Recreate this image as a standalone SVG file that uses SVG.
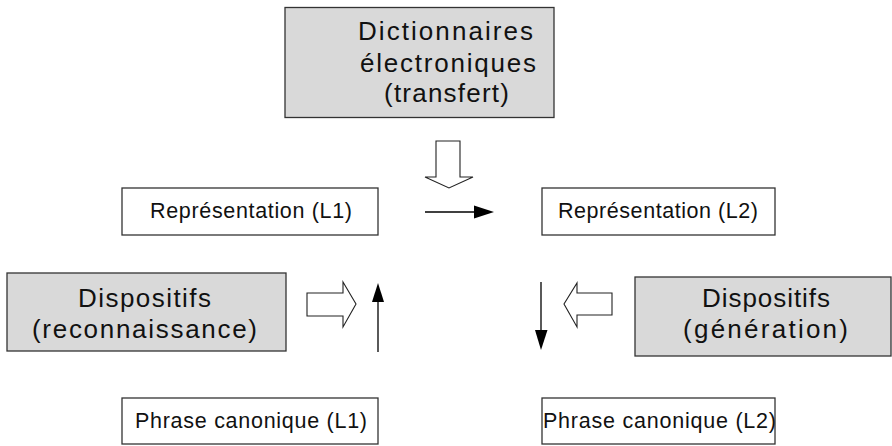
<svg xmlns="http://www.w3.org/2000/svg" width="892" height="446" viewBox="0 0 892 446">
<style>
.box{fill:#ffffff;stroke:#333333;stroke-width:1.3}
.gbox{fill:#d9d9d9;stroke:#333333;stroke-width:1.3}
.t{font-family:"Liberation Sans",Arial,sans-serif;fill:#111111}
.s{font-size:21.5px}
.l{font-size:26px}
.hollow{fill:#ffffff;stroke:#222222;stroke-width:1.1;stroke-linejoin:miter}
.line{stroke:#000000;stroke-width:1.3;fill:none}
.head{fill:#000000}
</style>
<rect width="892" height="446" fill="#ffffff"/>
<g id="dictionnaires">
<rect class="gbox" x="285" y="7.5" width="269" height="110"/>
<text class="t l" x="358" y="40" textLength="175" lengthAdjust="spacing">Dictionnaires</text>
<text class="t l" x="360" y="72" textLength="176" lengthAdjust="spacing">électroniques</text>
<text class="t l" x="384" y="102" textLength="125" lengthAdjust="spacing">(transfert)</text>
</g>
<g id="rep-l1">
<rect class="box" x="122" y="188" width="256" height="47"/>
<text class="t s" x="150" y="218" textLength="202" lengthAdjust="spacing">Représentation (L1)</text>
</g>
<g id="rep-l2">
<rect class="box" x="542" y="188" width="233" height="47"/>
<text class="t s" x="558" y="218" textLength="200" lengthAdjust="spacing">Représentation (L2)</text>
</g>
<g id="disp-reco">
<rect class="gbox" x="7" y="273" width="279" height="78"/>
<text class="t l" x="78" y="307" textLength="133" lengthAdjust="spacing">Dispositifs</text>
<text class="t l" x="32" y="338" textLength="225" lengthAdjust="spacing">(reconnaissance)</text>
</g>
<g id="disp-gen">
<rect class="gbox" x="635" y="277" width="256" height="79"/>
<text class="t l" x="702" y="307" textLength="128" lengthAdjust="spacing">Dispositifs</text>
<text class="t l" x="683" y="338" textLength="165" lengthAdjust="spacing">(génération)</text>
</g>
<g id="phrase-l1">
<rect class="box" x="122" y="398" width="256" height="46"/>
<text class="t s" x="135" y="428" textLength="232" lengthAdjust="spacing">Phrase canonique (L1)</text>
</g>
<g id="phrase-l2">
<rect class="box" x="542" y="398" width="233" height="46"/>
<text class="t s" x="543" y="428" textLength="233" lengthAdjust="spacing">Phrase canonique (L2)</text>
</g>
<g id="connectors">
<polygon class="hollow" points="436,141 460,141 460,177 473,177 449,188 425,177 436,177"/>
<polygon class="hollow" points="307,293 343,293 343,282 356,304 343,327 343,316 307,316"/>
<polygon class="hollow" points="612,293 577,293 577,283 564,304 577,327 577,315 612,315"/>
<line class="line" x1="425" y1="212" x2="476" y2="212"/>
<polygon class="head" points="474,205.5 494,212 474,218.5"/>
<line class="line" x1="378" y1="352" x2="378" y2="300"/>
<polygon class="head" points="372,302 378,283 384,302"/>
<line class="line" x1="541" y1="282" x2="541" y2="332"/>
<polygon class="head" points="535,330 541,350 547.5,330"/>
</g>
</svg>
